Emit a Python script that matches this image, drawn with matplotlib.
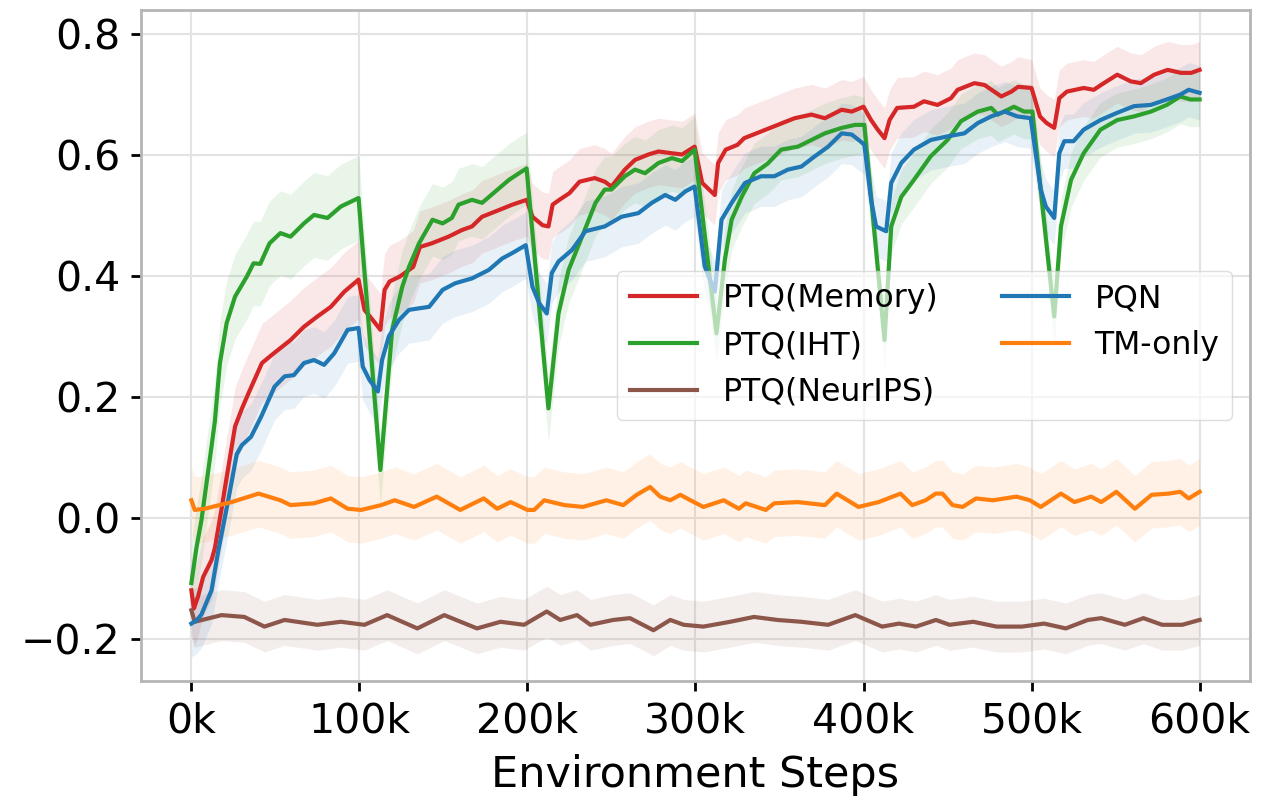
import numpy as np
import matplotlib
matplotlib.use("Agg")
import matplotlib.pyplot as plt
from matplotlib.ticker import FuncFormatter

# environment steps in thousands, mean return per series
mem_steps = [0, 1.5, 4, 7, 12, 14, 18, 20, 26, 30, 34, 42, 49, 59, 67, 75, 83, 91, 99.5,
             103, 108, 112.5, 115, 118, 124, 132, 136, 143, 153, 161, 167, 173, 183, 191, 199.5,
             203, 209, 212.5, 215, 219, 225, 231, 240, 246, 250, 258, 264, 272, 278, 286, 292, 299.5,
             304, 311.5, 313.5, 318, 325, 329, 339, 349, 359, 369, 377, 387, 393, 400,
             404.5, 408.5, 412.5, 415.5, 420, 430, 436, 444, 452, 456, 466, 472, 482, 488, 492, 500,
             505, 509, 513.5, 516.5, 521, 531, 537, 543, 551, 559, 565, 573, 581, 589, 595, 600]
mem_vals = [-0.12, -0.15, -0.13, -0.098, -0.07, -0.05, 0.015, 0.05, 0.151, 0.18, 0.206, 0.256, 0.272,
            0.294, 0.316, 0.333, 0.349, 0.374, 0.394,
            0.344, 0.327, 0.311, 0.377, 0.391, 0.399, 0.415, 0.448, 0.454, 0.465, 0.476, 0.482, 0.498,
            0.509, 0.518, 0.526,
            0.498, 0.484, 0.482, 0.518, 0.526, 0.537, 0.556, 0.562, 0.556, 0.548, 0.576, 0.592, 0.601,
            0.606, 0.603, 0.601, 0.614,
            0.554, 0.534, 0.587, 0.609, 0.617, 0.628, 0.639, 0.650, 0.661, 0.667, 0.661, 0.675, 0.672, 0.680,
            0.658, 0.642, 0.628, 0.658, 0.678, 0.680, 0.689, 0.683, 0.694, 0.708, 0.719, 0.716, 0.697,
            0.705, 0.713, 0.711,
            0.664, 0.653, 0.645, 0.694, 0.705, 0.711, 0.708, 0.719, 0.733, 0.722, 0.719, 0.733, 0.741,
            0.736, 0.736, 0.741]

iht_steps = [0, 3, 6, 12, 14, 17, 21, 26, 33, 37, 41, 46.5, 53, 59, 67, 73, 81, 89, 99.5,
             112.5, 119.5, 125.5, 129.5, 135.5, 143.5, 149.5, 155, 159, 167, 173, 181, 189, 195, 199.5,
             212.5, 218.5, 224.5, 232.5, 240.5, 246, 250, 258, 264, 270, 278, 286, 292, 299.5,
             312.5, 317.5, 321.5, 327.5, 335, 343, 351, 361, 369, 377, 387, 395, 400.5,
             412.5, 416.5, 422.5, 430, 440, 450, 458, 468, 476, 480, 489.5, 495.5, 500.5,
             513.5, 517.5, 523.5, 531, 541, 551, 561, 571, 580.5, 588.5, 594.5, 600]
iht_vals = [-0.108, -0.05, -0.004, 0.118, 0.16, 0.256, 0.322, 0.366, 0.399, 0.421, 0.42, 0.454,
            0.471, 0.465, 0.487, 0.501, 0.496, 0.515, 0.529,
            0.079, 0.311, 0.382, 0.415, 0.454, 0.493, 0.487, 0.496, 0.518, 0.526, 0.521, 0.540, 0.559,
            0.570, 0.578,
            0.181, 0.338, 0.410, 0.465, 0.521, 0.543, 0.543, 0.565, 0.576, 0.570, 0.587, 0.595, 0.590, 0.609,
            0.305, 0.427, 0.493, 0.531, 0.570, 0.586, 0.609, 0.614, 0.625, 0.636, 0.645, 0.650, 0.650,
            0.294, 0.482, 0.531, 0.559, 0.598, 0.625, 0.656, 0.672, 0.678, 0.667, 0.680, 0.672, 0.672,
            0.333, 0.482, 0.559, 0.603, 0.642, 0.658, 0.664, 0.672, 0.683, 0.697, 0.692, 0.692]

neurips_steps = [0, 2, 18, 31.5, 43.5, 55.5, 75, 89, 103, 116.5, 134.5, 150.5, 170, 184, 198,
                 211.5, 219.5, 229.5, 237.5, 251, 261, 275, 285, 293, 304.7, 320.7, 334.8, 348.8,
                 362.9, 378.9, 395.1, 411.1, 421.1, 431.2, 443.1, 451.2, 465.3, 479.2, 494.3, 507.4,
                 520.4, 533.5, 541.5, 555.5, 566.6, 577.7, 589.7, 600]
neurips_vals = [-0.153, -0.172, -0.161, -0.164, -0.180, -0.169, -0.177, -0.172, -0.177, -0.161,
                -0.183, -0.161, -0.183, -0.172, -0.177, -0.155, -0.169, -0.161, -0.177, -0.169,
                -0.166, -0.186, -0.169, -0.177, -0.180, -0.172, -0.164, -0.169, -0.172, -0.177,
                -0.161, -0.180, -0.175, -0.180, -0.169, -0.177, -0.172, -0.180, -0.180, -0.175,
                -0.183, -0.169, -0.166, -0.177, -0.166, -0.177, -0.177, -0.169]

pqn_steps = [0, 3, 6, 9, 12, 16, 22, 27, 30, 35.5, 41.5, 49.5, 55.5, 61, 67, 73, 79, 85, 93, 99.5,
             102, 106, 111, 113.5, 117.5, 123.5, 129.5, 141.5, 149.5, 157, 167, 177, 185, 191, 199,
             203, 207, 211.5, 214.5, 218.5, 226.5, 234.5, 246, 256, 266, 274, 282, 288, 294, 299.5,
             302.5, 305.5, 311.5, 315.5, 321.5, 329.5, 339, 347, 355, 363, 371, 379, 387, 393, 398.5,
             400.5, 404.5, 407.5, 413.5, 416.5, 422.5, 430, 440, 450, 460, 468, 476, 484, 491.5,
             499.5, 505.5, 508.5, 513.5, 516.5, 519.5, 525, 531, 541, 551, 561, 571, 580.5, 588.5,
             593.5, 600]
pqn_vals = [-0.175, -0.17, -0.16, -0.14, -0.12, -0.055, 0.03, 0.105, 0.12, 0.134, 0.167, 0.217,
            0.234, 0.236, 0.256, 0.261, 0.253, 0.272, 0.311, 0.314,
            0.250, 0.228, 0.209, 0.261, 0.300, 0.327, 0.344, 0.349, 0.377, 0.388, 0.396, 0.410,
            0.429, 0.438, 0.451,
            0.382, 0.355, 0.338, 0.405, 0.424, 0.443, 0.474, 0.482, 0.498, 0.504, 0.521, 0.534,
            0.526, 0.540, 0.548,
            0.482, 0.416, 0.374, 0.493, 0.521, 0.554, 0.565, 0.565, 0.576, 0.581, 0.598, 0.614,
            0.636, 0.634, 0.622,
            0.617, 0.526, 0.482, 0.474, 0.554, 0.587, 0.609, 0.625, 0.631, 0.636, 0.653, 0.664,
            0.672, 0.664,
            0.661, 0.543, 0.515, 0.496, 0.603, 0.623, 0.623, 0.642, 0.658, 0.670, 0.681, 0.683,
            0.692, 0.700, 0.708, 0.703]

tm_steps = [0, 2, 8, 24, 40, 53, 59, 73, 83, 93, 101, 113, 121, 132.5, 146, 160, 174, 182, 190,
            200, 204, 210, 222, 233, 247, 257, 265, 273, 279, 285, 291, 297, 304.7, 316.8, 325.8,
            329.9, 341.8, 346.9, 360.9, 377, 384, 397, 409, 422, 429, 437, 443, 447, 453, 459,
            467, 477, 491, 499, 505.5, 517.5, 525.5, 535.5, 541.5, 550.5, 561.5, 571.5, 581.5,
            588.5, 593.5, 600]
tm_vals = [0.029, 0.013, 0.015, 0.026, 0.040, 0.029, 0.021, 0.024, 0.032, 0.015, 0.013, 0.021,
           0.029, 0.018, 0.035, 0.013, 0.032, 0.015, 0.026, 0.013, 0.013, 0.029, 0.021, 0.018,
           0.029, 0.021, 0.038, 0.051, 0.035, 0.029, 0.038, 0.029, 0.018, 0.029, 0.015, 0.024,
           0.013, 0.024, 0.026, 0.021, 0.040, 0.018, 0.026, 0.040, 0.021, 0.029, 0.040, 0.040,
           0.021, 0.018, 0.032, 0.029, 0.035, 0.029, 0.018, 0.040, 0.026, 0.035, 0.026, 0.043,
           0.015, 0.038, 0.040, 0.043, 0.032, 0.043]

# shaded spread (half width) for each of the six tasks
mem_spread = [0.065, 0.06, 0.055, 0.05, 0.05, 0.047]
iht_spread = [0.07, 0.06, 0.055, 0.05, 0.045, 0.045]
neurips_spread = [0.042] * 6
pqn_spread = [0.055, 0.055, 0.05, 0.05, 0.05, 0.045]
tm_spread = [0.055] * 6

labels = ["PTQ(Memory)", "PTQ(IHT)", "PTQ(NeurIPS)", "PQN", "TM-only"]
colors = ["#d62728", "#2ca02c", "#8c564b", "#1f77b4", "#ff7f0e"]

runs = [(mem_steps, mem_vals, mem_spread),
        (iht_steps, iht_vals, iht_spread),
        (neurips_steps, neurips_vals, neurips_spread),
        (pqn_steps, pqn_vals, pqn_spread),
        (tm_steps, tm_vals, tm_spread)]

fig = plt.figure(figsize=(12.63, 8.01), dpi=100)
ax = fig.add_axes([0.1116, 0.1498, 0.8781, 0.8377])

for (steps, vals, spread), label, c in zip(runs, labels, colors):
    x = np.array(steps) * 1000
    y = np.array(vals)
    task = np.minimum((np.array(steps) // 100).astype(int), 5)
    w = np.array(spread)[task]
    ax.fill_between(x, y - w, y + w, color=c, alpha=0.1, lw=0)
    ax.plot(x, y, color=c, lw=3, label=label)

ax.set_xlim(-30000, 630000)
ax.set_ylim(-0.27, 0.84)
ax.set_xticks(np.arange(0, 600001, 100000))
ax.set_yticks([-0.2, 0.0, 0.2, 0.4, 0.6, 0.8])
ax.xaxis.set_major_formatter(FuncFormatter(lambda v, p: "%dk" % (v / 1000)))
ax.tick_params(labelsize=29.5, length=7, width=2, color="black", pad=8)
ax.grid(True, color="#e3e3e3", lw=1.5)
ax.set_axisbelow(True)
for s in ax.spines.values():
    s.set_color("#b5b5b5")
    s.set_linewidth(2)

ax.set_xlabel("Environment Steps", fontsize=31, labelpad=9)

ax.legend(ncol=2, fontsize=22.7, loc="center right", bbox_to_anchor=(0.998, 0.5),
          labelspacing=0.5, handlelength=2.15, columnspacing=2.0, framealpha=0.65)

fig.savefig("out.png", dpi=100)
